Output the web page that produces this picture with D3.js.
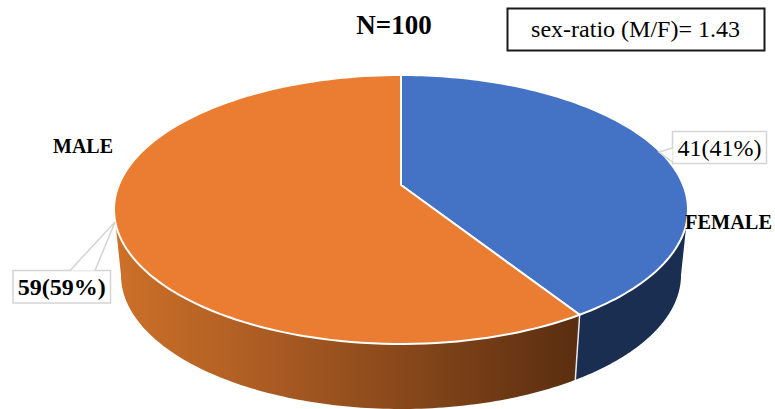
<!DOCTYPE html>
<html>
<head>
<meta charset="utf-8">
<script src="https://cdn.jsdelivr.net/npm/d3@7"></script>
<style>
  html, body { margin: 0; padding: 0; background: #fff; }
  svg { display: block; }
  text { font-family: "Liberation Serif", serif; fill: #000; }
</style>
</head>
<body>
<svg id="chart" width="775" height="409"></svg>
<script>
// Sex distribution of the study group
const categories = ["FEMALE", "MALE"];
const counts = [41, 59];
const percents = [41, 59];
const topColors = ["#4472c4", "#ea7d32"];
const titleText = "N=100";
const ratioText = "sex-ratio (M/F)= 1.43";

const svg = d3.select("#chart");
const defs = svg.append("defs");

// Tilted disc: unit circle -> ellipse through a projective map, so the hub
// sits above the ellipse centre as it does in a perspective view.
const tilt = -0.182;
const rimTop = { x: d3.scaleLinear([-1, 1], [114, 688]), y: d3.scaleLinear([-1, 1], [75, 344]) };
const rimBottom = { x: d3.scaleLinear([-1, 1], [121, 681]), y: d3.scaleLinear([-1, 1], [141, 409]) };

function project(angle, radius, rim) {
  const px = radius * Math.sin(angle), py = -radius * Math.cos(angle);
  const w = 1 + tilt * py;
  return [rim.x(px * Math.sqrt(1 - tilt * tilt) / w), rim.y((py + tilt) / w)];
}

const line = d3.line();
const arcPoints = (a0, a1, rim) => d3.range(0, 121).map(i => project(a0 + (a1 - a0) * i / 120, 1, rim));

const slices = d3.pie().sort(null)(counts);

// Wall shading
const maleGrad = defs.append("linearGradient").attr("id", "maleWall")
  .attr("gradientUnits", "userSpaceOnUse")
  .attr("x1", 118).attr("x2", 578).attr("y1", 0).attr("y2", 0);
maleGrad.append("stop").attr("offset", 0).attr("stop-color", "#cc7029");
maleGrad.append("stop").attr("offset", 0.35).attr("stop-color", "#a85a22");
maleGrad.append("stop").attr("offset", 1).attr("stop-color", "#5a2e10");

// Side walls run between the silhouette points of the disc, where the
// projected rim reaches its widest extent
const widest = Math.acos(tilt);
const wallRange = [[widest, slices[0].endAngle], [slices[1].startAngle, 2 * Math.PI - widest]];
const wallFill = ["#1a2e52", "url(#maleWall)"];
wallRange.forEach(([a0, a1], i) => {
  const pts = arcPoints(a0, a1, rimTop).concat(arcPoints(a0, a1, rimBottom).reverse());
  svg.append("path").attr("d", line(pts) + "Z").attr("fill", wallFill[i]);
});

// Seam between the two walls
svg.append("line")
  .attr("x1", project(slices[0].endAngle, 1, rimTop)[0])
  .attr("y1", project(slices[0].endAngle, 1, rimTop)[1])
  .attr("x2", project(slices[0].endAngle, 1, rimBottom)[0])
  .attr("y2", project(slices[0].endAngle, 1, rimBottom)[1])
  .attr("stroke", "#e8e8e8").attr("stroke-width", 1.5);

// Top face
slices.forEach((s, i) => {
  const pts = [project(0, 0, rimTop)].concat(arcPoints(s.startAngle, s.endAngle, rimTop));
  svg.append("path").attr("d", line(pts) + "Z")
    .attr("fill", topColors[i]).attr("stroke", "#fff").attr("stroke-width", 2)
    .attr("stroke-linejoin", "round");
});

// Data label callouts: box outline with a wedge pointing at the rim
const calloutStroke = "#d4d4d4";
function callout(box, pointer, text, bold) {
  svg.append("rect").attr("x", box.x).attr("y", box.y).attr("width", box.w).attr("height", box.h)
    .attr("fill", "#fff").attr("stroke", calloutStroke).attr("stroke-width", 1.5);
  svg.append("path").attr("d", line(pointer))
    .attr("fill", "#fff").attr("stroke", "none");
  svg.append("path").attr("d", line(pointer))
    .attr("fill", "none").attr("stroke", calloutStroke).attr("stroke-width", 1.5);
  svg.append("text").attr("x", box.x + box.w / 2).attr("y", box.y + box.h - 8)
    .attr("text-anchor", "middle").attr("font-size", 24)
    .attr("font-weight", bold ? "bold" : "normal").text(text);
}
const labelText = i => `${counts[i]}(${percents[i]}%)`;

callout({ x: 672.5, y: 131.5, w: 94, h: 32 }, [[672.5, 148], [659, 152], [672.5, 162]], labelText(0), false);
callout({ x: 13, y: 270.5, w: 97.5, h: 32.5 }, [[70, 270.5], [115, 222], [95, 270.5]], labelText(1), true);

// Category names
svg.append("text").attr("x", 53).attr("y", 153).attr("font-size", 20).attr("font-weight", "bold")
  .attr("textLength", 60).attr("lengthAdjust", "spacingAndGlyphs").text(categories[1]);
svg.append("text").attr("x", 685).attr("y", 229).attr("font-size", 20).attr("font-weight", "bold")
  .attr("textLength", 87).attr("lengthAdjust", "spacingAndGlyphs").text(categories[0]);

// Heading and ratio box
svg.append("text").attr("x", 394).attr("y", 33.5).attr("text-anchor", "middle")
  .attr("font-size", 27).attr("font-weight", "bold").text(titleText);
svg.append("rect").attr("x", 507.5).attr("y", 8.5).attr("width", 257).attr("height", 42)
  .attr("fill", "#fff").attr("stroke", "#1a1a1a").attr("stroke-width", 2);
svg.append("text").attr("x", 635.5).attr("y", 36.7).attr("text-anchor", "middle")
  .attr("font-size", 24).text(ratioText);
</script>
</body>
</html>
